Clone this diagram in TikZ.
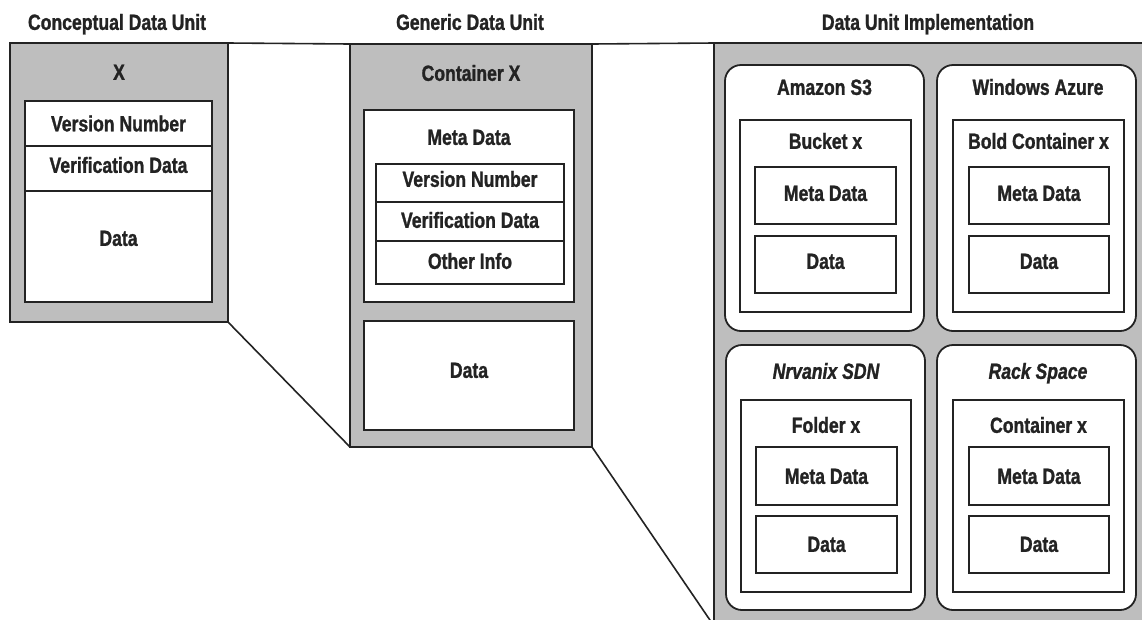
\documentclass[tikz,border=0pt]{standalone}
\usepackage{fontspec}
\setmainfont{Liberation Sans}[FakeStretch=0.8,FakeBold=1.2]
\definecolor{panelgray}{RGB}{190,190,190}
\definecolor{ink}{RGB}{35,35,35}
\newcommand{\bx}[6]{\node[#6, minimum width={(#4-#2)*1pt}, minimum height={(#5-#3)*1pt}] (#1) at ({(#2+#4)/2},{(#3+#5)/2}) {};}
\begin{document}
\begin{tikzpicture}[x=1pt,y=-1pt,
  every node/.style={font=\fontsize{22}{26}\selectfont\bfseries, text=ink},
  panel/.style={draw=ink, fill=panelgray, line width=1.8pt, inner sep=0pt, outer sep=0pt, rectangle},
  wbox/.style={draw=ink, fill=white, line width=1.8pt, inner sep=0pt, outer sep=0pt, rectangle},
  rbox/.style={draw=ink, fill=white, line width=1.8pt, inner sep=0pt, outer sep=0pt, rectangle, rounded corners=16pt},
  lbl/.style={inner sep=0pt, text height=15.7pt, text depth=0pt, anchor=center},
  ilbl/.style={lbl, font=\fontsize{22}{26}\selectfont\bfseries\itshape},
  conn/.style={draw=ink, line width=1.6pt}]
\useasboundingbox (0,0) rectangle (1142,619);
\clip (0,0) rectangle (1142,619);
\fill[white] (0,0) rectangle (1142,619);
% titles
\node[lbl] (t1) at (117,22) {Conceptual Data Unit};
\node[lbl] (t2) at (470,22) {Generic Data Unit};
\node[lbl] (t3) at (928,22) {Data Unit Implementation};
% left panel
\bx{L}{10}{43}{228}{322}{panel}
\node[lbl] (Lx) at (119,72) {X};
\bx{L1}{25}{101}{212}{146}{wbox}
\bx{L2}{25}{146}{212}{191}{wbox}
\bx{L3}{25}{191}{212}{302}{wbox}
\node[lbl] (L1t) at (118.5,123.5) {Version Number};
\node[lbl] (L2t) at (118.5,165) {Verification Data};
\node[lbl] (L3t) at (118.5,238) {Data};
% middle panel
\bx{M}{350}{44}{592}{447}{panel}
\node[lbl] (Mx) at (471,73) {Container X};
\bx{MM}{364}{110}{574}{302}{wbox}
\node[lbl] (MMt) at (469,137) {Meta Data};
\bx{M1}{376}{164}{564}{202}{wbox}
\bx{M2}{376}{202}{564}{241}{wbox}
\bx{M3}{376}{241}{564}{284}{wbox}
\node[lbl] (M1t) at (470,179) {Version Number};
\node[lbl] (M2t) at (470,220) {Verification Data};
\node[lbl] (M3t) at (470,261) {Other Info};
\bx{MD}{364}{321}{574}{430}{wbox}
\node[lbl] (MDt) at (469,370) {Data};
% right panel
\bx{R}{714}{43}{1160}{626}{panel}
% cell A (Amazon S3)
\bx{A}{725}{65}{924}{331}{rbox}
\node[lbl] (At) at (824.5,87) {Amazon S3};
\bx{Ai}{740}{120}{911}{312}{wbox}
\node[lbl] (Ait) at (825.5,141) {Bucket x};
\bx{Am}{755}{167}{896}{224}{wbox}
\node[lbl] (Amt) at (825.5,193) {Meta Data};
\bx{Ad}{755}{236}{896}{293}{wbox}
\node[lbl] (Adt) at (825.5,261) {Data};
% cell B (Windows Azure)
\bx{B}{937}{65}{1136}{331}{rbox}
\node[lbl] (Bt) at (1038,87) {Windows Azure};
\bx{Bi}{953}{120}{1124}{312}{wbox}
\node[lbl] (Bit) at (1038.5,141) {Bold Container x};
\bx{Bm}{969}{167}{1109}{224}{wbox}
\node[lbl] (Bmt) at (1039,193) {Meta Data};
\bx{Bd}{969}{236}{1109}{293}{wbox}
\node[lbl] (Bdt) at (1039,261) {Data};
% cell C (Nrvanix SDN)
\bx{C}{726}{345}{925}{610}{rbox}
\node[ilbl] (Ct) at (826,371) {Nrvanix SDN};
\bx{Ci}{741}{400}{911}{592}{wbox}
\node[lbl] (Cit) at (826,425) {Folder x};
\bx{Cm}{756}{447}{897}{505}{wbox}
\node[lbl] (Cmt) at (826.5,476) {Meta Data};
\bx{Cd}{756}{516}{897}{573}{wbox}
\node[lbl] (Cdt) at (826.5,544) {Data};
% cell D (Rack Space)
\bx{D}{937}{345}{1136}{610}{rbox}
\node[ilbl] (Dt) at (1038,371) {Rack Space};
\bx{Di}{953}{400}{1124}{592}{wbox}
\node[lbl] (Dit) at (1038.5,425) {Container x};
\bx{Dm}{969}{447}{1109}{505}{wbox}
\node[lbl] (Dmt) at (1039,476) {Meta Data};
\bx{Dd}{969}{516}{1109}{573}{wbox}
\node[lbl] (Ddt) at (1039,544) {Data};
% connectors
\draw[conn] (L.north east) -- (M.north west);
\draw[conn] (M.north east) -- (R.north west);
\draw[conn] (L.south east) -- (M.south west);
\draw[conn] (M.south east) -- (R.south west);
\end{tikzpicture}
\end{document}
